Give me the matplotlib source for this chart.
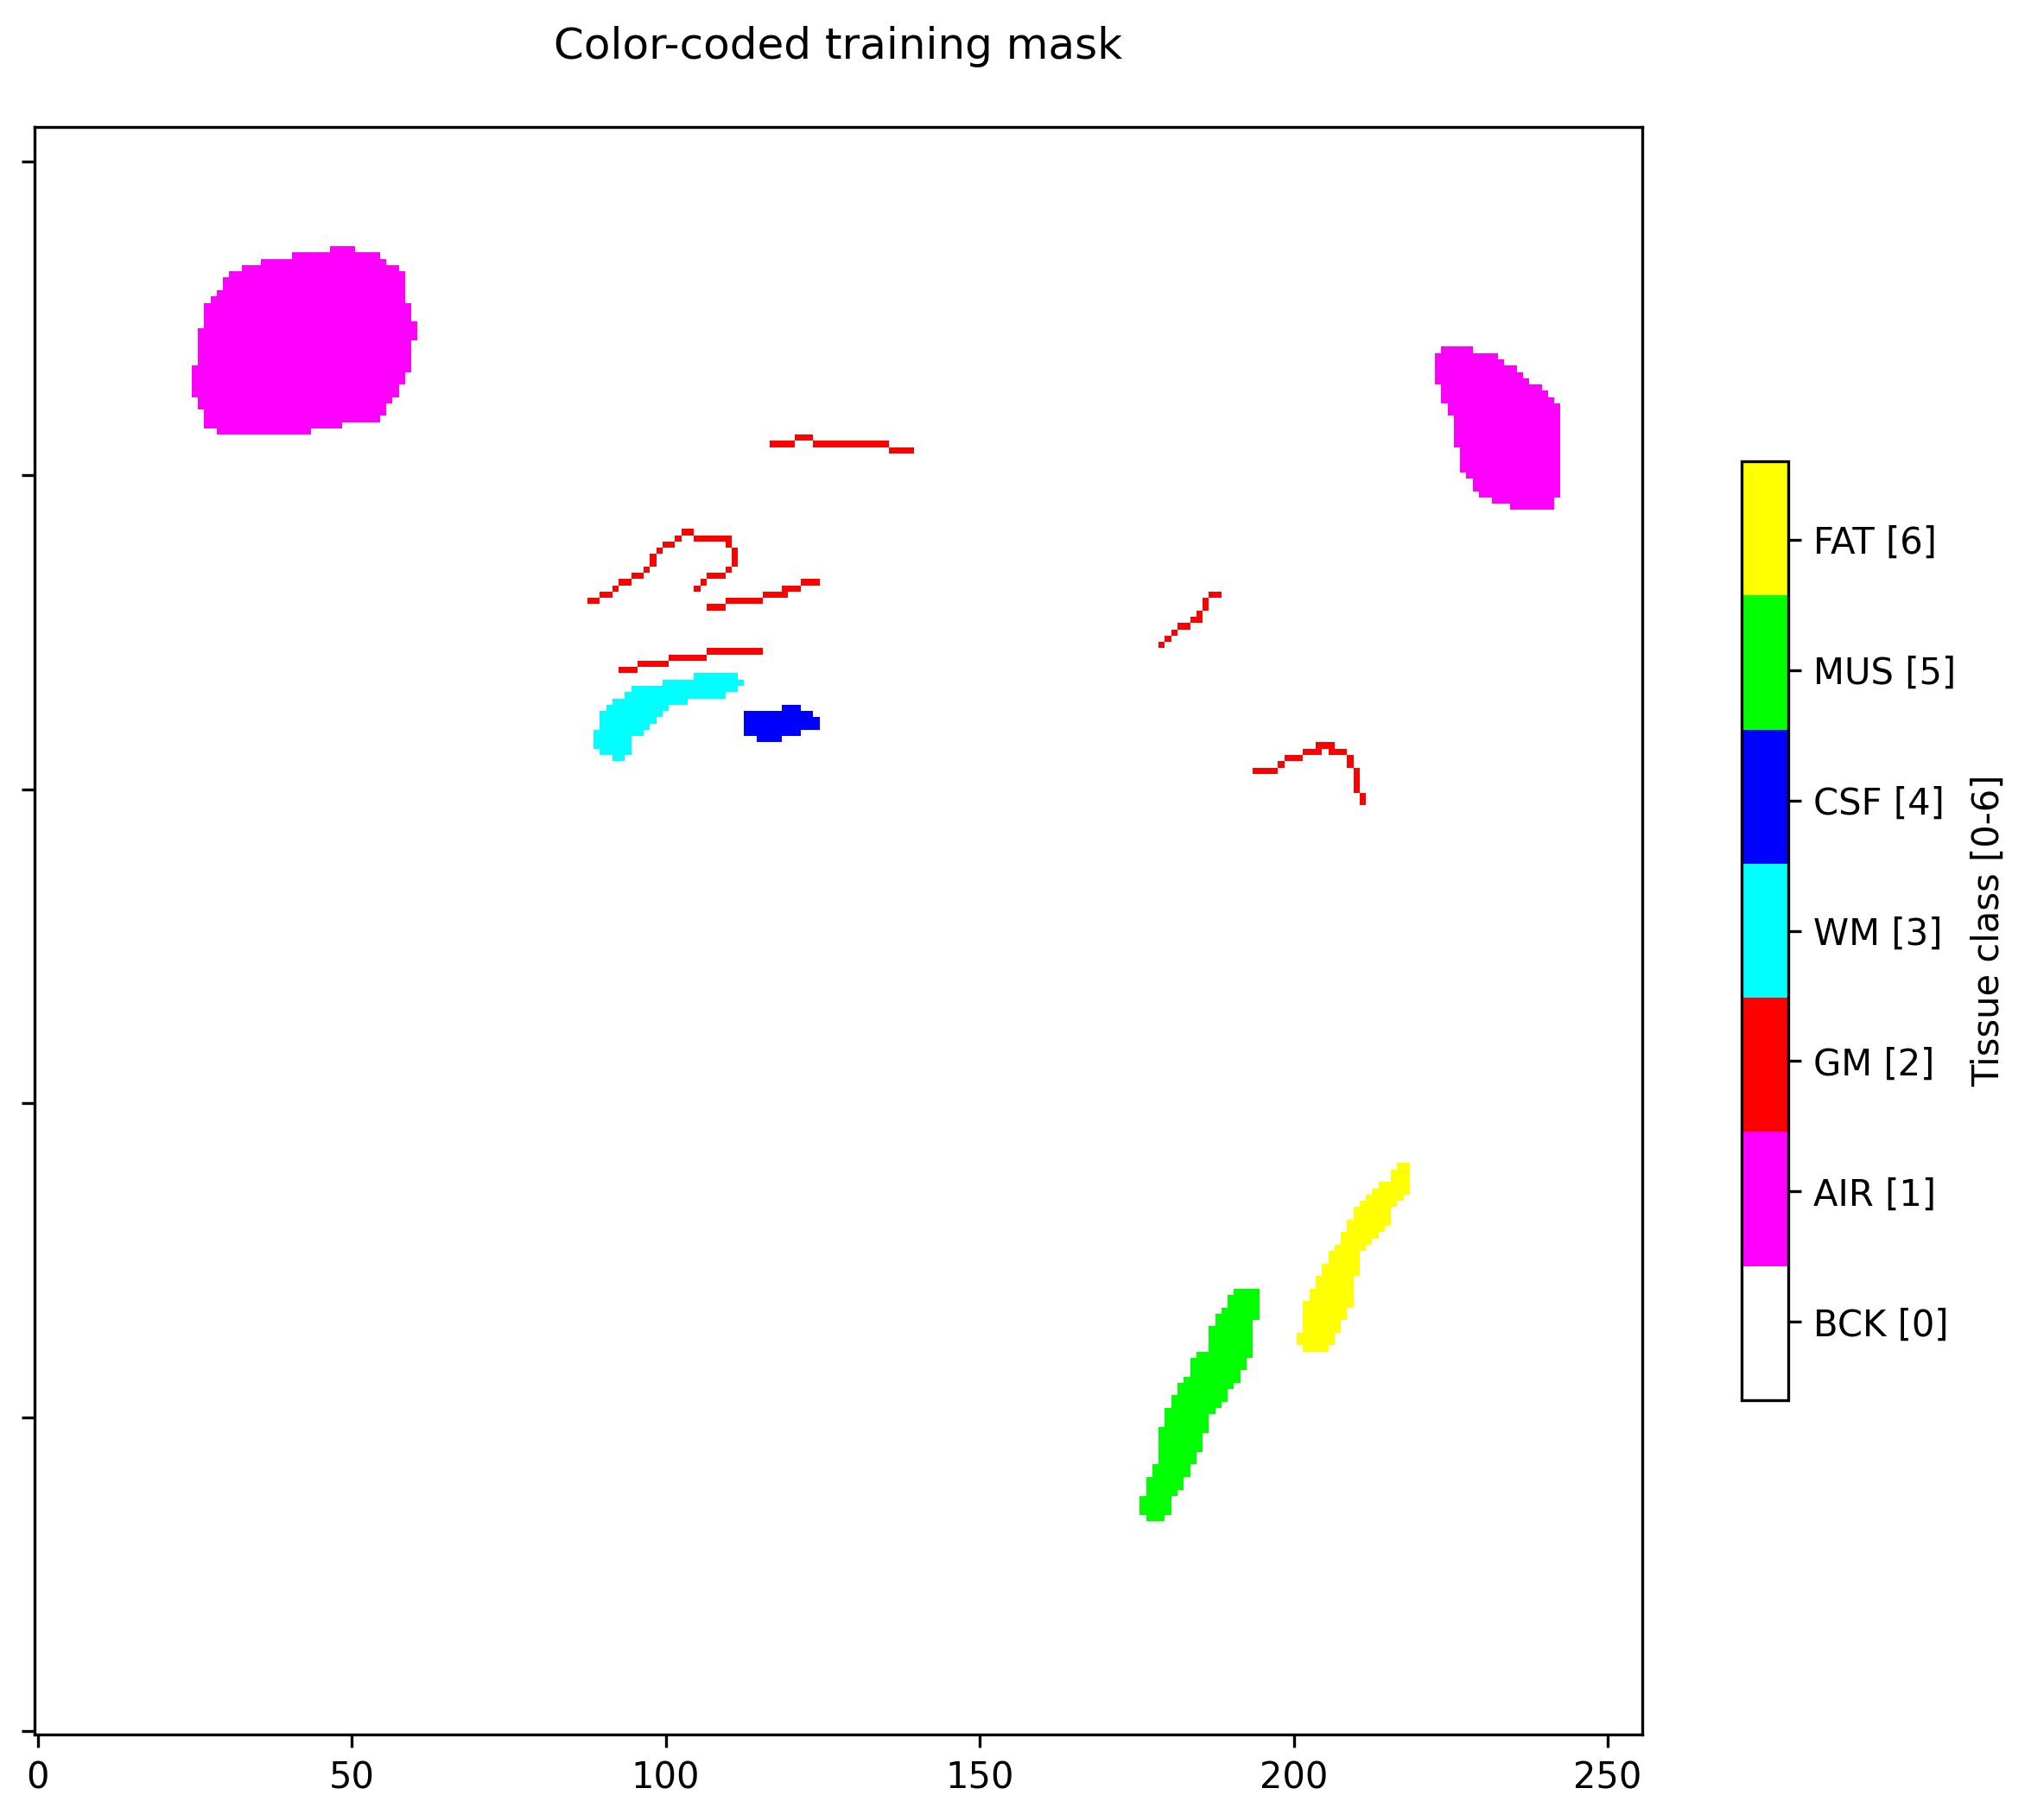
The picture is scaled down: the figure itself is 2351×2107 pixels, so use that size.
import numpy as np
import matplotlib
matplotlib.use('Agg')
import matplotlib.pyplot as plt
from matplotlib.colors import ListedColormap

# class names / colours, index = label value
class_names = ['BCK [0]', 'AIR [1]', 'GM [2]', 'WM [3]', 'CSF [4]', 'MUS [5]', 'FAT [6]']
class_colors = ['#ffffff', '#ff00ff', '#ff0000', '#00ffff', '#0000ff', '#00ff00', '#ffff00']

# labelled regions as runs: (row_lo, row_hi, col_lo, col_hi), inclusive, row 0 = bottom
air_left = [(236, 236, 47, 50), (235, 235, 41, 54), (234, 234, 36, 55), (233, 233, 33, 57),
            (232, 232, 31, 58), (230, 231, 30, 58), (229, 229, 29, 58), (228, 228, 28, 58),
            (225, 227, 27, 59), (224, 224, 27, 60), (222, 223, 26, 60), (218, 221, 26, 59),
            (217, 217, 25, 59), (215, 216, 25, 58), (213, 214, 25, 57), (212, 212, 26, 56),
            (211, 211, 26, 55), (210, 210, 27, 55), (209, 209, 27, 54), (208, 208, 27, 48),
            (207, 207, 29, 43)]
air_right = [(220, 220, 224, 228), (219, 219, 223, 232), (218, 218, 223, 233), (217, 217, 223, 235),
             (216, 216, 223, 236), (215, 215, 223, 237), (214, 214, 224, 239), (213, 213, 224, 240),
             (212, 212, 224, 241), (210, 211, 225, 242), (205, 209, 226, 242), (201, 204, 227, 242),
             (200, 200, 228, 242), (198, 199, 229, 242), (197, 197, 230, 242), (196, 196, 232, 241),
             (195, 195, 235, 241)]
gm_traces = [(206, 206, 121, 123), (205, 205, 117, 120), (205, 205, 124, 135), (204, 204, 136, 139),
             (180, 180, 88, 89), (181, 181, 90, 91), (182, 182, 92, 92), (183, 183, 93, 94),
             (184, 184, 95, 96), (185, 185, 97, 97), (186, 187, 98, 98), (188, 188, 99, 99),
             (189, 189, 100, 101), (190, 190, 102, 102), (191, 191, 103, 104), (190, 190, 105, 110),
             (189, 189, 110, 110), (186, 188, 111, 111), (185, 185, 110, 110), (184, 184, 107, 109),
             (183, 183, 106, 106), (182, 182, 105, 105),
             (179, 179, 107, 109), (180, 180, 110, 115), (181, 181, 116, 119), (182, 182, 119, 121),
             (183, 183, 122, 124),
             (169, 169, 93, 95), (170, 170, 96, 100), (171, 171, 101, 106), (172, 172, 107, 115),
             (173, 173, 179, 179), (174, 174, 180, 180), (175, 175, 181, 181), (176, 176, 182, 183),
             (177, 177, 184, 185), (178, 178, 185, 185), (179, 180, 186, 186), (181, 181, 187, 188),
             (153, 153, 194, 197), (154, 154, 198, 198), (155, 155, 199, 201), (156, 156, 202, 204),
             (157, 157, 204, 206), (156, 156, 206, 208), (154, 155, 209, 209), (150, 153, 210, 210),
             (148, 149, 211, 211)]
wm_region = [(168, 168, 105, 111), (167, 167, 100, 112), (166, 166, 95, 111), (165, 165, 94, 109),
             (164, 164, 92, 103), (163, 163, 91, 100), (162, 162, 90, 99), (161, 161, 90, 98),
             (160, 160, 90, 97), (159, 159, 89, 96), (157, 158, 89, 94), (156, 156, 90, 94),
             (155, 155, 92, 93)]
csf_region = [(163, 163, 119, 121), (162, 162, 113, 123), (160, 161, 113, 124),
              (159, 159, 113, 121), (158, 158, 115, 118)]
mus_region = [(70, 70, 191, 194), (68, 69, 190, 194), (67, 67, 189, 194), (66, 66, 188, 194),
              (65, 65, 188, 193), (61, 64, 187, 193), (60, 60, 185, 193), (58, 59, 184, 192),
              (57, 57, 184, 191), (56, 56, 183, 191), (55, 55, 182, 190), (54, 54, 182, 189),
              (53, 53, 181, 189), (52, 52, 181, 188), (51, 51, 180, 187), (49, 50, 180, 186),
              (48, 48, 179, 186), (45, 47, 179, 185), (43, 44, 179, 184), (41, 42, 178, 183),
              (39, 40, 177, 182), (38, 38, 177, 181), (35, 37, 176, 180), (34, 34, 177, 179)]
fat_region = [(90, 90, 217, 218), (88, 89, 216, 218), (87, 87, 214, 218), (86, 86, 213, 218),
              (85, 85, 212, 217), (84, 84, 211, 216), (82, 83, 210, 215), (81, 81, 209, 215),
              (80, 80, 209, 214), (79, 79, 208, 213), (78, 78, 208, 212), (77, 77, 207, 211),
              (75, 76, 206, 210), (73, 74, 205, 210), (71, 72, 204, 209), (69, 70, 203, 209),
              (68, 68, 202, 209), (66, 67, 202, 208), (64, 65, 202, 207), (62, 63, 201, 206),
              (61, 61, 202, 205)]

cbar_ticks = np.linspace(0.5, 5.5, 7)


def paint(mask, runs, label):
    for r0, r1, c0, c1 in runs:
        mask[r0:r1 + 1, c0:c1 + 1] = label


mask = np.zeros((256, 256), dtype=int)
paint(mask, air_left, 1)
paint(mask, air_right, 1)
paint(mask, gm_traces, 2)
paint(mask, wm_region, 3)
paint(mask, csf_region, 4)
paint(mask, mus_region, 5)
paint(mask, fat_region, 6)

W, H = 2351, 2107
fig = plt.figure(figsize=(W / 300, H / 300), dpi=300)
ax = fig.add_axes([40 / W, 99 / H, 1861 / W, 1861 / H])
cmap = ListedColormap(class_colors)
im = ax.imshow(mask, cmap=cmap, vmin=0, vmax=6, origin='lower', interpolation='nearest')
ax.set_yticks(np.arange(0, 251, 50))
ax.set_yticklabels([])
ax.set_xticks(np.arange(0, 251, 50))

# title sits centred over the image, well above the frame
fig.text((40 + 1861 / 2) / W, 1 - 68 / H, 'Color-coded training mask',
         ha='center', va='baseline', fontsize=12)

cax = fig.add_axes([2016 / W, 486 / H, 54 / W, 1087 / H])
cbar = fig.colorbar(im, cax=cax)
cbar.set_ticks(cbar_ticks)
cbar.set_ticklabels(class_names)
cbar.set_label('Tissue class [0-6]')

fig.savefig('out.png', dpi=300)
